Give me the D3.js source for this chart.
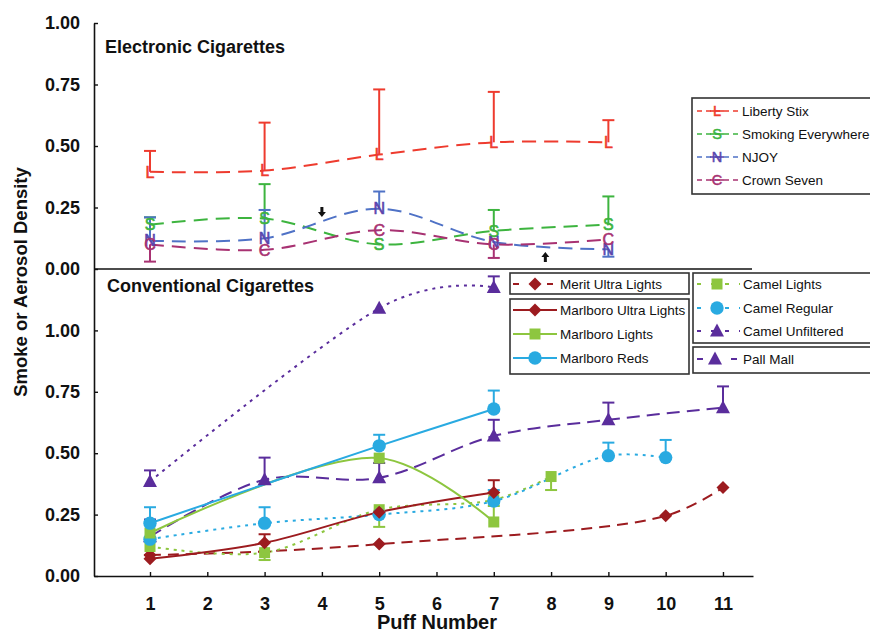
<!DOCTYPE html>
<html><head><meta charset="utf-8">
<script src="https://cdn.jsdelivr.net/npm/d3@7"></script>
<style>
body{margin:0;background:#fff}
svg{display:block;font-family:"Liberation Sans",Arial,sans-serif}
</style>
</head><body><svg id="c" width="870" height="634"></svg>
<script>
// ---------- data ----------
const puffTicks = [1,2,3,4,5,6,7,8,9,10,11];
const densityTicks = [0,0.25,0.5,0.75,1];

// Electronic cigarettes (puffs 1,3,5,7,9); errors signed (+ up, - down, 0 none)
const ecigPuffs = [1,3,5,7,9];
const libertyStix = [0.395,0.40,0.465,0.515,0.515];
const libertyStixErr = [0.085,0.195,0.265,0.205,0.09];
const smokingEverywhere = [0.18,0.205,0.10,0.155,0.18];
const smokingEverywhereErr = [0.03,0.14,0,0.085,0.115];
const njoy = [0.115,0.125,0.245,0.11,0.08];
const njoyErr = [0.095,0.115,0.07,0,-0.03];
const crownSeven = [0.10,0.078,0.158,0.10,0.12];
const crownSevenErr = [-0.07,0,0,-0.055,0];

// Conventional cigarettes
const meritPuffs = [1,3,5,10,11];
const meritUltraLights = [0.085,0.10,0.13,0.245,0.36];
const meritUltraLightsErr = [0,0,0,0,0];
const marlboroULPuffs = [1,3,5,7];
const marlboroUltraLights = [0.07,0.135,0.26,0.34];
const marlboroUltraLightsErr = [0.015,0.035,0,0.05];
const marlboroLightsPuffs = [1,5,7];
const marlboroLights = [0.175,0.48,0.22];
const marlboroLightsErr = [0,0,0.065];
const marlboroRedsPuffs = [1,5,7];
const marlboroReds = [0.215,0.53,0.68];
const marlboroRedsErr = [0.065,0.045,0.075];
const camelLightsPuffs = [1,3,5,7,8];
const camelLights = [0.12,0.095,0.27,0.31,0.405];
const camelLightsErr = [0,-0.03,-0.07,0,-0.055];
const camelRegularPuffs = [1,3,5,7,9,10];
const camelRegular = [0.15,0.215,0.25,0.305,0.49,0.482];
const camelRegularErr = [0,0.065,0,0.045,0.053,0.072];
const camelUnfilteredPuffs = [1,5,7];
const camelUnfiltered = [0.385,1.09,1.175];
const camelUnfilteredErr = [0.045,0,0.045];
const pallMallPuffs = [1,3,5,7,9,11];
const pallMall = [0.16,0.392,0.40,0.57,0.636,0.685];
const pallMallErr = [0.07,0.09,0.06,0.066,0.07,0.087];

// ---------- styles ----------
const C = {
  red:"#ee3b2e", green:"#3db43f", blue:"#4f72c6", njoyTxt:"#5a45ad", crown:"#a83272",
  dred:"#9c1b1f", lgreen:"#8dc63f", cyan:"#29aae1", purple:"#5a2d9c"
};

const ecig = [
  {name:"Liberty Stix", letter:"L", vals:libertyStix, err:libertyStixErr, color:C.red, txt:C.red},
  {name:"Smoking Everywhere", letter:"S", vals:smokingEverywhere, err:smokingEverywhereErr, color:C.green, txt:C.green},
  {name:"NJOY", letter:"N", vals:njoy, err:njoyErr, color:C.blue, txt:C.njoyTxt},
  {name:"Crown Seven", letter:"C", vals:crownSeven, err:crownSevenErr, color:C.crown, txt:C.crown}
];
const conv = [
  {name:"Merit Ultra Lights", x:meritPuffs, vals:meritUltraLights, err:meritUltraLightsErr, color:C.dred, dash:"11,7", shape:"diamond", alpha:0.5},
  {name:"Pall Mall", x:pallMallPuffs, vals:pallMall, err:pallMallErr, color:C.purple, dash:"13,7", shape:"triangle", alpha:0.5},
  {name:"Camel Unfiltered", x:camelUnfilteredPuffs, vals:camelUnfiltered, err:camelUnfilteredErr, color:C.purple, dash:"3,5", shape:"triangle", alpha:0},
  {name:"Camel Lights", x:camelLightsPuffs, vals:camelLights, err:camelLightsErr, color:C.lgreen, dash:"3,5", shape:"square", alpha:0.5},
  {name:"Camel Regular", x:camelRegularPuffs, vals:camelRegular, err:camelRegularErr, color:C.cyan, dash:"3,5", shape:"circle", alpha:0.5},
  {name:"Marlboro Ultra Lights", x:marlboroULPuffs, vals:marlboroUltraLights, err:marlboroUltraLightsErr, color:C.dred, dash:null, shape:"diamond", alpha:0.5},
  {name:"Marlboro Lights", x:marlboroLightsPuffs, vals:marlboroLights, err:marlboroLightsErr, color:C.lgreen, dash:null, shape:"square", alpha:0.5},
  {name:"Marlboro Reds", x:marlboroRedsPuffs, vals:marlboroReds, err:marlboroRedsErr, color:C.cyan, dash:null, shape:"circle", alpha:0.5}
];

const shapes = {
  diamond:"M0,-6.5L6.5,0L0,6.5L-6.5,0Z",
  square:"M-5.5,-5.5H5.5V5.5H-5.5Z",
  circle:d3.symbol(d3.symbolCircle,140)(),
  triangle:"M0,-7.5L7,5.5L-7,5.5Z"
};

// ---------- scales ----------
const svg = d3.select("#c");
const x = d3.scaleLinear().domain([0.0227,11.524]).range([94,753]);
const yTop = d3.scaleLinear().domain([0,1]).range([269,23]);
const yBot = d3.scaleLinear().domain([0,1.25]).range([576,269]);

// ---------- axes ----------
function styleAxis(g){
  g.selectAll("path.domain").attr("stroke","#111").attr("stroke-width",1.6);
  g.selectAll(".tick line").attr("stroke","#111").attr("stroke-width",1.4);
  g.selectAll("text").attr("font-size",18).attr("font-weight","bold").attr("fill","#111")
    .attr("font-family","'Liberation Sans',Arial,sans-serif");
}
svg.append("g").attr("transform","translate(94,0)")
  .call(d3.axisLeft(yTop).tickValues(densityTicks).tickFormat(d3.format(".2f")).tickSizeInner(-4).tickSizeOuter(0).tickPadding(14))
  .call(styleAxis);
svg.append("g").attr("transform","translate(94,0)")
  .call(d3.axisLeft(yBot).tickValues(densityTicks).tickFormat(d3.format(".2f")).tickSizeInner(-4).tickSizeOuter(0).tickPadding(14))
  .call(styleAxis);
svg.append("g").attr("transform","translate(0,576)")
  .call(d3.axisBottom(x).tickValues(puffTicks).tickFormat(d3.format("d")).tickSizeInner(-4).tickSizeOuter(0).tickPadding(21))
  .call(styleAxis);
// panel separator
svg.append("line").attr("x1",x.range()[0]).attr("x2",752).attr("y1",yTop(0)).attr("y2",yTop(0))
  .attr("stroke","#111").attr("stroke-width",1.6);

// titles
svg.append("text").attr("x",437).attr("y",629).attr("text-anchor","middle")
  .attr("font-size",20).attr("font-weight","bold").attr("fill","#111").text("Puff Number");
svg.append("text").attr("transform","translate(27,282) rotate(-90)").attr("text-anchor","middle")
  .attr("font-size",18.5).attr("font-weight","bold").attr("fill","#111").text("Smoke or Aerosol Density");
svg.append("text").attr("x",105).attr("y",53).attr("font-size",18).attr("font-weight","bold").attr("fill","#111").text("Electronic Cigarettes");
svg.append("text").attr("x",107).attr("y",292).attr("font-size",18).attr("font-weight","bold").attr("fill","#111").text("Conventional Cigarettes");

// ---------- drawing helpers ----------
function errBar(g, px, yv, ye, color){
  if(!ye) return;
  g.append("line").attr("x1",px).attr("x2",px).attr("y1",yv).attr("y2",ye).attr("stroke",color).attr("stroke-width",2);
  g.append("line").attr("x1",px-6).attr("x2",px+6).attr("y1",ye).attr("y2",ye).attr("stroke",color).attr("stroke-width",2);
}

// ---------- electronic panel ----------
const gTop = svg.append("g");
ecig.forEach(s=>{
  const pts = ecigPuffs.map((p,i)=>[p,s.vals[i],s.err[i]]);
  gTop.append("path").attr("d", d3.line().x(d=>x(d[0])).y(d=>yTop(d[1])).curve(d3.curveCatmullRom.alpha(0.5))(pts))
    .attr("fill","none").attr("stroke",s.color).attr("stroke-width",2).attr("stroke-dasharray","14,8");
});
ecig.forEach(s=>{
  ecigPuffs.forEach((p,i)=>{
    errBar(gTop, x(p), yTop(s.vals[i]), s.err[i]?yTop(s.vals[i]+s.err[i]):null, s.color);
  });
});
ecig.forEach(s=>{
  ecigPuffs.forEach((p,i)=>{
    gTop.append("text").attr("x",x(p)).attr("y",yTop(s.vals[i])).attr("dy","0.36em").attr("text-anchor","middle")
      .attr("font-size",16).attr("fill",s.txt).attr("stroke",s.txt).attr("stroke-width",0.6).text(s.letter);
  });
});
// arrows
function arrow(px, py, dir){ // dir 1 = down, -1 = up; py = tip
  const p = d3.path();
  p.moveTo(px, py); p.lineTo(px-4, py-5*dir); p.lineTo(px-1.5, py-5*dir); p.lineTo(px-1.5, py-10*dir);
  p.lineTo(px+1.5, py-10*dir); p.lineTo(px+1.5, py-5*dir); p.lineTo(px+4, py-5*dir); p.closePath();
  svg.append("path").attr("d",p.toString()).attr("fill","#111");
}
arrow(x(4), 217, 1);
arrow(x(7.9), 252, -1);

// ---------- conventional panel ----------
const gBot = svg.append("g");
conv.forEach(s=>{
  const pts = s.x.map((p,i)=>[p,s.vals[i]]);
  const path = gBot.append("path").attr("d", d3.line().x(d=>x(d[0])).y(d=>yBot(d[1])).curve(d3.curveCatmullRom.alpha(s.alpha))(pts))
    .attr("fill","none").attr("stroke",s.color).attr("stroke-width",2);
  if(s.dash) path.attr("stroke-dasharray",s.dash);
});
conv.forEach(s=>{
  s.x.forEach((p,i)=>{
    errBar(gBot, x(p), yBot(s.vals[i]), s.err[i]?yBot(s.vals[i]+s.err[i]):null, s.color);
  });
});
conv.forEach(s=>{
  s.x.forEach((p,i)=>{
    gBot.append("path").attr("d",shapes[s.shape]).attr("transform",`translate(${x(p)},${yBot(s.vals[i])})`).attr("fill",s.color);
  });
});

// ---------- legends ----------
const lg = svg.append("g");
function box(x0,y0,w,h){ lg.append("rect").attr("x",x0).attr("y",y0).attr("width",w).attr("height",h)
  .attr("fill","#fff").attr("stroke","#333").attr("stroke-width",1.6); }
function entryText(tx,ty,t){ lg.append("text").attr("x",tx).attr("y",ty).attr("dy","0.36em").attr("font-size",13.5).attr("fill","#111").text(t); }

box(692,98,200,96);
ecig.forEach((s,i)=>{
  const ly = [111,134,157,180][i];
  lg.append("line").attr("x1",697).attr("x2",738).attr("y1",ly).attr("y2",ly).attr("stroke",s.color).attr("stroke-width",1.6).attr("stroke-dasharray","5,4");
  lg.append("line").attr("x1",710).attr("x2",724).attr("y1",ly).attr("y2",ly).attr("stroke",s.txt).attr("stroke-width",1.6);
  lg.append("text").attr("x",717).attr("y",ly).attr("dy","0.36em").attr("text-anchor","middle").attr("font-size",14.5).attr("fill",s.txt).attr("stroke",s.txt).attr("stroke-width",0.5).text(s.letter);
  entryText(742,ly,s.name);
});

const byName = Object.fromEntries(conv.map(s=>[s.name,s]));
function convEntry(name,x1,x2,mx,tx,ly){
  const s = byName[name];
  const l = lg.append("line").attr("x1",x1).attr("x2",x2).attr("y1",ly).attr("y2",ly).attr("stroke",s.color).attr("stroke-width",2);
  if(s.dash) l.attr("stroke-dasharray", s.dash==="3,5" ? "4,10" : "6,28");
  lg.append("path").attr("d",shapes[s.shape]).attr("transform",`translate(${mx},${ly})`).attr("fill",s.color);
  entryText(tx,ly,name);
}
box(510,273,179,21);
convEntry("Merit Ultra Lights",513,557,535,560,284);
box(510,299,179,75);
convEntry("Marlboro Ultra Lights",513,557,535,560,310);
convEntry("Marlboro Lights",513,557,535,560,334);
convEntry("Marlboro Reds",513,557,535,560,358);
box(693,273,178,70);
convEntry("Camel Lights",697,740,717,743,284);
convEntry("Camel Regular",697,740,717,743,308);
convEntry("Camel Unfiltered",697,740,717,743,331);
box(693,347,178,26);
convEntry("Pall Mall",697,740,715,743,359);
</script></body></html>
